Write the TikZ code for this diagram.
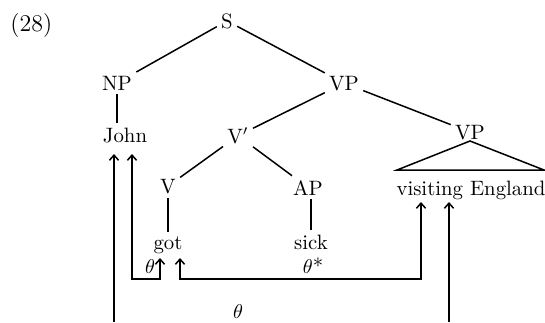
\documentclass[tikz,border=0pt]{standalone}
\usetikzlibrary{arrows.meta}
\begin{document}
\begin{tikzpicture}[x=0.5pt,y=-0.5pt,
  lab/.style={anchor=base,inner sep=2pt,font=\fontsize{10.4}{12}\selectfont},
  ln/.style={line width=0.75pt},
  arr/.style={line width=0.75pt,-{Straight Barb[length=2.6pt,width=4.6pt]}},
  darr/.style={line width=0.75pt,{Straight Barb[length=2.6pt,width=4.6pt]}-{Straight Barb[length=2.6pt,width=4.6pt]}}]
\useasboundingbox (0,0) rectangle (545,322);
\node[lab,anchor=base west,font=\fontsize{12}{14}\selectfont] (num) at (6,31) {(28)};
\node[lab] (S) at (227,28) {S};
\node[lab] (NP) at (117,90) {NP};
\node[lab] (VP) at (344,90) {VP};
\node[lab] (John) at (125,142) {John};
\node[lab] (Vbar) at (238,143) {V$'$};
\node[lab] (VP2) at (470,139) {VP};
\node[lab] (V) at (168,193) {V};
\node[lab] (AP) at (308,195) {AP};
\node[lab] (ve) at (471,195) {visiting England};
\node[lab] (got) at (168,249) {got};
\node[lab] (sick) at (311,249) {sick};
% tree lines
\draw[ln] (S) -- (NP);
\draw[ln] (S) -- (VP);
\draw[ln] (NP) -- (NP |- John.north);
\draw[ln] (VP) -- (Vbar);
\draw[ln] (VP) -- (VP2);
\draw[ln] (Vbar) -- (V);
\draw[ln] (Vbar) -- (AP);
\draw[ln] (V) -- (got);
\draw[ln] (AP.south -| sick) -- (sick);
% triangle
\coordinate (apex) at (470,141);
\coordinate (tl) at (397,170);
\coordinate (tr) at (544,170);
\draw[ln] (tl) -- (apex) -- (tr) -- cycle;
% arrows
\coordinate (b1) at (114,322);
\coordinate (j1) at (114,154);
\coordinate (j2) at (132,154);
\coordinate (c1) at (132,279);
\coordinate (c2) at (160,279);
\coordinate (g1) at (160,258);
\coordinate (g2) at (180,258);
\coordinate (c3) at (180,279);
\coordinate (c4) at (421,279);
\coordinate (v1) at (421,202);
\coordinate (v2) at (449,202);
\coordinate (b2) at (449,322);
\draw[arr] (b1) -- (j1);
\draw[darr] (j2) -- (c1) -- (c2) -- (g1);
\draw[darr] (g2) -- (c3) -- (c4) -- (v1);
\draw[arr] (b2) -- (v2);
\node[lab] (th1) at (150,273) {$\theta$};
\node[lab] (th2) at (313,273) {$\theta$*};
\node[lab] (th3) at (238,318) {$\theta$};
\end{tikzpicture}
\end{document}
